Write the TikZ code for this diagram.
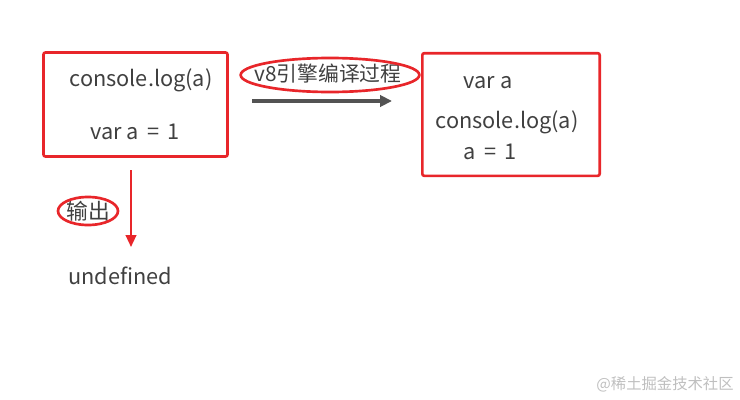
\documentclass[tikz,border=0pt]{standalone}
\usepackage{fontspec}
\setmainfont{Noto Sans CJK SC}
\usetikzlibrary{arrows.meta,shapes.geometric}
\definecolor{boxred}{HTML}{E8262A}
\definecolor{txtgray}{HTML}{404040}
\tikzset{
  codebox/.style={draw=boxred, line width=2pt, rounded corners=1.5pt},
  codetext/.style={text=txtgray, font=\fontsize{16.3}{18}\selectfont, inner sep=0pt},
  ring/.style={ellipse, draw=boxred, line width=2pt, inner sep=0pt}
}
\begin{document}
\begin{tikzpicture}[x=0.75pt, y=-0.75pt]
    \useasboundingbox (0, 0) rectangle (740, 400);

    \node[codebox, minimum width=138pt, minimum height=78pt] (src) at (135.5, 104.5) {};
    \node[codetext] (log1) at (141, 80) {console.log(a)};
    \node[codetext] (var1) at (135, 132) {var a\ \,=\ \,1};

    \node[codetext, font=\fontsize{15.6}{18}\selectfont] (v8) at (328, 74) {v8引擎编译过程};
    \node[ring, minimum width=134pt, minimum height=25.5pt] (v8ring) at (330, 75) {};

    \node[codebox, minimum width=133pt, minimum height=92pt] (out) at (511, 114.5) {};
    \node[codetext] (var2) at (488, 83) {var a};
    \node[codetext] (log2) at (507, 122) {console.log(a)};
    \node[codetext] (ass2) at (490, 152) {a\ \,=\ \,1};

    \coordinate (go) at (252, 101);
    \coordinate (gone) at (392, 101);
    \draw[line width=2.6pt, color=txtgray!90, -{Triangle[length=9pt, width=8.5pt]}] (go) -- (gone);

    \coordinate (down) at (131, 170);
    \node[codetext] (undef) at (120, 276) {undefined};
    \draw[line width=1.6pt, color=boxred, -{Triangle[length=9pt, width=8pt]}] (down) -- (131, 247);

    \node[codetext] (print) at (88, 211) {输出};
    \node[ring, minimum width=45pt, minimum height=21pt] (printring) at (88, 211) {};

    \node[text=black!25, font=\fontsize{11.5}{13}\selectfont, inner sep=0pt] (mark) at (665, 384) {@稀土掘金技术社区};
\end{tikzpicture}
\end{document}
